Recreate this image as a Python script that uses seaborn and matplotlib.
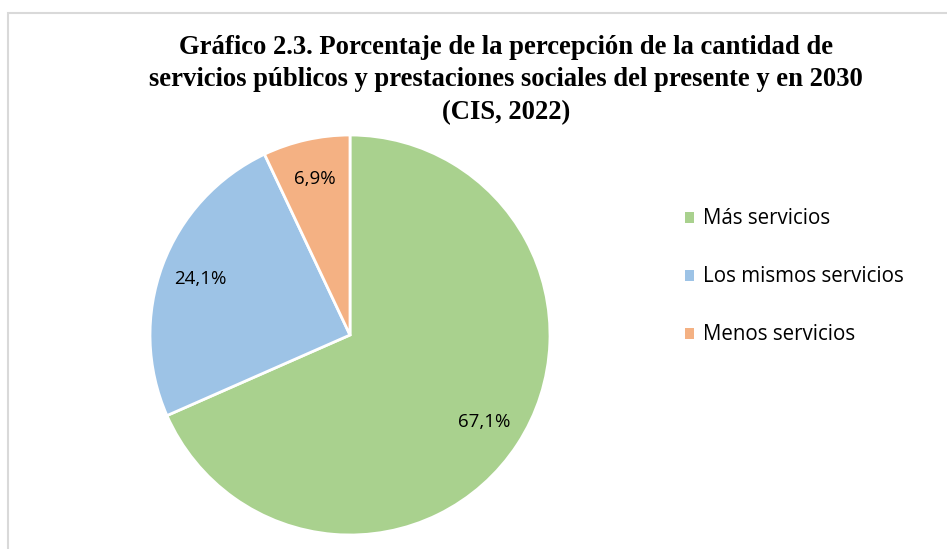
import matplotlib
matplotlib.use("Agg")
import matplotlib.pyplot as plt
import seaborn as sns
from matplotlib.patches import Rectangle, Patch

# Data (CIS, 2022)
categorias = ["Más servicios", "Los mismos servicios", "Menos servicios"]
porcentajes = [67.1, 24.1, 6.9]
colores = ["#A9D18E", "#9DC3E6", "#F4B183"]

titulo = ("Gráfico 2.3. Porcentaje de la percepción de la cantidad de\n"
          "servicios públicos y prestaciones sociales del presente y en 2030\n"
          "(CIS, 2022)")

sns.set_theme(style="white")
plt.rcParams['font.family'] = ['Open Sans', 'DejaVu Sans']
plt.rcParams['text.color'] = 'black'

fig = plt.figure(figsize=(9.47, 5.49), dpi=100)

# light grey chart frame
fig.patches.append(Rectangle((8 / 947, -0.05), 1.1, 1 - 13 / 549 + 0.05,
                             transform=fig.transFigure, fill=False,
                             edgecolor="#d9d9d9", linewidth=1.5))

ax = fig.add_axes([150 / 947, 1 - 535 / 549, 400 / 947, 400 / 549])
total = sum(porcentajes)
wedges, texts, autotexts = ax.pie(
    porcentajes,
    colors=colores,
    startangle=90,
    counterclock=False,
    pctdistance=0.8,
    autopct=lambda p: f"{p * total / 100:.1f}".replace(".", ",") + "%",
    wedgeprops=dict(edgecolor="white", linewidth=2),
    textprops=dict(fontsize=13.5, color="black"),
)
ax.set_xlim(-1, 1)
ax.set_ylim(-1, 1)
ax.set_aspect("equal")

fig.text(0.534, 1 - 80 / 549, titulo, ha="center", va="center",
         family="Liberation Serif", fontweight="bold", fontsize=19.2,
         linespacing=1.38, color="black")

handles = [Patch(facecolor=c, edgecolor="none") for c in colores]
fig.legend(handles, categorias, loc="center left",
           bbox_to_anchor=(666 / 947, 1 - 277 / 549), frameon=False,
           prop=dict(family="Open Sans", size=14.8),
           handlelength=0.45, handleheight=0.45,
           handletextpad=0.45, labelspacing=1.8, labelcolor="black")

fig.savefig("out.png", dpi=100)
